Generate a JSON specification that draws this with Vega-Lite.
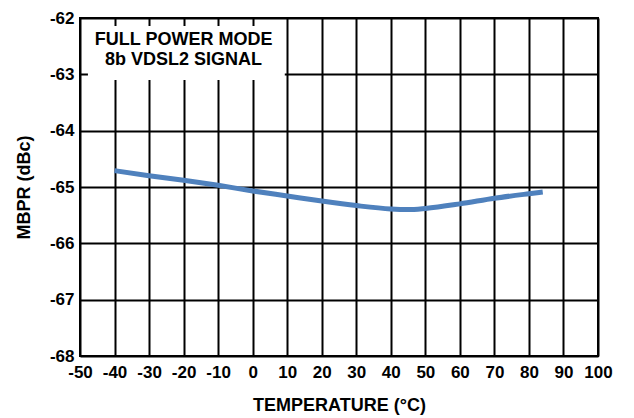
{
  "$schema": "https://vega.github.io/schema/vega-lite/v6.json",
  "autosize": "none",
  "width": 518,
  "height": 338,
  "padding": {"left": 80, "top": 18, "right": 36, "bottom": 62},
  "background": "white",
  "config": {
    "view": {"stroke": "black", "strokeWidth": 2},
    "font": "Liberation Sans",
    "axis": {
      "domain": false,
      "ticks": false,
      "grid": true,
      "gridColor": "black",
      "gridWidth": 2,
      "gridOpacity": 1,
      "labelFont": "Liberation Sans",
      "labelFontWeight": "bold",
      "labelFontSize": 17,
      "labelColor": "black",
      "labelOverlap": false,
      "labelExpr": "toString(datum.value)",
      "titleFont": "Liberation Sans",
      "titleFontWeight": "bold",
      "titleFontSize": 18,
      "titleColor": "black"
    }
  },
  "datasets": {
    "curve": [
      {"temp": -40, "mbpr": -64.71},
      {"temp": -30, "mbpr": -64.8},
      {"temp": -20, "mbpr": -64.88},
      {"temp": -10, "mbpr": -64.97},
      {"temp": 0, "mbpr": -65.07},
      {"temp": 10, "mbpr": -65.16},
      {"temp": 20, "mbpr": -65.25},
      {"temp": 30, "mbpr": -65.33},
      {"temp": 40, "mbpr": -65.39},
      {"temp": 45, "mbpr": -65.4},
      {"temp": 50, "mbpr": -65.38},
      {"temp": 60, "mbpr": -65.3},
      {"temp": 70, "mbpr": -65.2},
      {"temp": 80, "mbpr": -65.12},
      {"temp": 84, "mbpr": -65.09}
    ],
    "note": [
      {"label": "FULL POWER MODE", "tx": -20.0, "ty": -62.39},
      {"label": "8b VDSL2 SIGNAL", "tx": -20.0, "ty": -62.75}
    ],
    "box": [
      {"x1": -47.7, "x2": 9.3, "y1": -62.14, "y2": -63.1}
    ]
  },
  "layer": [
    {
      "data": {"name": "curve"},
      "mark": {"type": "line", "color": "#4F81BD", "strokeWidth": 5, "interpolate": "monotone", "clip": true},
      "encoding": {
        "x": {
          "field": "temp", "type": "quantitative",
          "scale": {"domain": [-50, 100], "nice": false, "zero": false},
          "axis": {"values": [-50,-40,-30,-20,-10,0,10,20,30,40,50,60,70,80,90,100], "tickCount": 20, "labelPadding": 8, "labelDx": 7.5, "title": "TEMPERATURE (°C)", "titlePadding": 16, "labelFlush": false}
        },
        "y": {
          "field": "mbpr", "type": "quantitative",
          "scale": {"domain": [-68, -62], "nice": false, "zero": false},
          "axis": {"values": [-68,-67,-66,-65,-64,-63,-62], "tickCount": 10, "labelPadding": 6, "labelDy": -1, "title": "MBPR (dBc)", "titlePadding": 16, "labelFlush": false}
        }
      }
    },
    {
      "data": {"name": "box"},
      "mark": {"type": "rect", "color": "white"},
      "encoding": {
        "x": {"field": "x1", "type": "quantitative"},
        "x2": {"field": "x2"},
        "y": {"field": "y1", "type": "quantitative"},
        "y2": {"field": "y2"}
      }
    },
    {
      "data": {"name": "note"},
      "mark": {"type": "text", "fontSize": 18, "fontWeight": "bold", "font": "Liberation Sans", "color": "black", "align": "center", "baseline": "middle"},
      "encoding": {
        "x": {"field": "tx", "type": "quantitative"},
        "y": {"field": "ty", "type": "quantitative"},
        "text": {"field": "label"}
      }
    }
  ]
}
